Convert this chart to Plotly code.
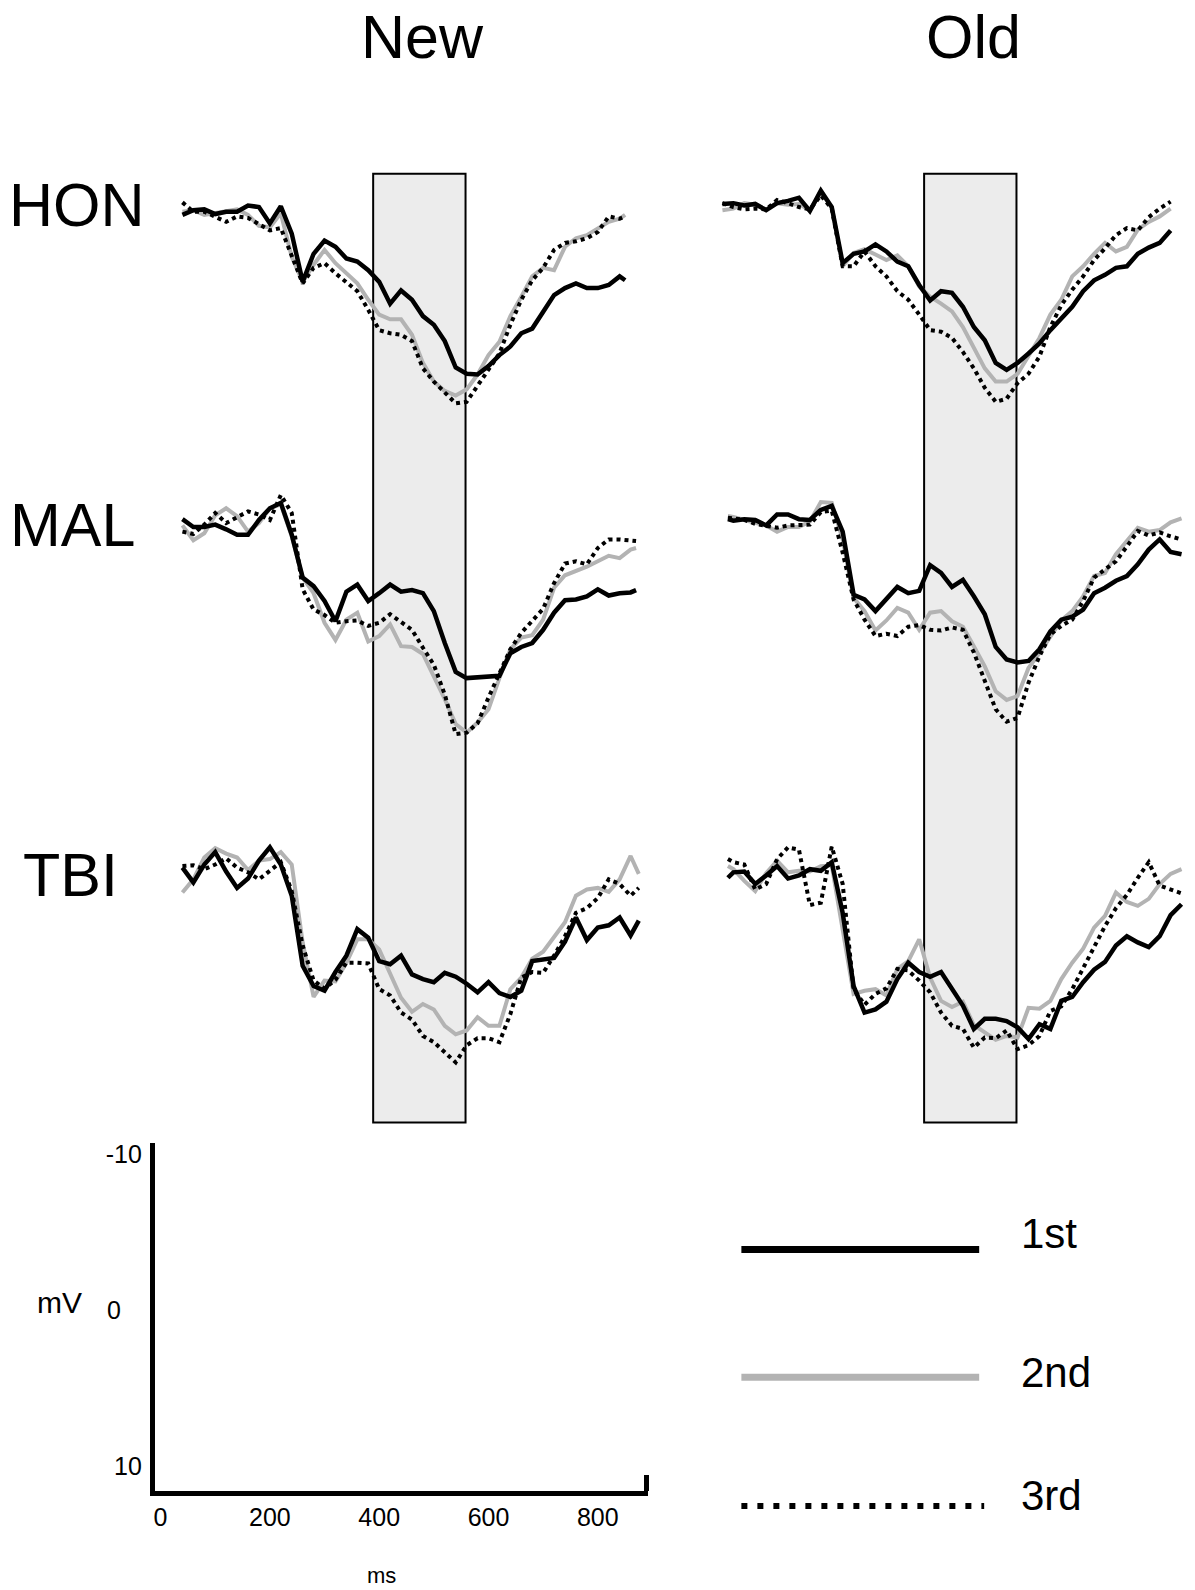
import plotly.graph_objects as go

W, H = 1195, 1590
FONT = "Liberation Sans, Arial, sans-serif"

COLUMNS = ["New", "Old"]
GROUPS = ["HON", "MAL", "TBI"]
SERIES = ["1st", "2nd", "3rd"]
WINDOW_MS = [389, 558]

SCALE_X_TICKS = [0, 200, 400, 600, 800]
SCALE_X_TEXT = ["0", "200", "400", "600", "800"]
SCALE_X_END_MS = 889
SCALE_Y_TICKS = [-10, 0, 10]
SCALE_Y_TEXT = ["-10", "0\u00a0\u00a0\u00a0", "10"]
SCALE_X_LABEL = "ms"
SCALE_Y_LABEL = "mV"

# ---------------- time samples (ms) ----------------
T_HON_NEW = [40, 60, 80, 100, 120, 140, 160, 180, 200, 220, 240, 260, 280, 300, 320, 340, 360, 380, 400, 420,
             440, 460, 480, 500, 520, 540, 560, 580, 600, 620, 640, 660, 680, 700, 720, 740, 760, 780, 800, 820,
             840, 850]
T_MAL_NEW = [40, 60, 80, 100, 120, 140, 160, 180, 200, 220, 240, 260, 280, 300, 320, 340, 360, 380, 400, 420,
             440, 460, 480, 500, 520, 540, 560, 580, 600, 620, 640, 660, 680, 700, 720, 740, 760, 780, 800, 820,
             840, 860, 870]
T_TBI_NEW = [40, 60, 80, 100, 120, 140, 160, 180, 200, 220, 240, 260, 280, 300, 320, 340, 360, 380, 400, 420,
             440, 460, 480, 500, 520, 540, 560, 580, 600, 620, 640, 660, 680, 700, 720, 740, 760, 780, 800, 820,
             840, 860, 875]
T_HON_OLD = [20, 40, 60, 80, 100, 120, 140, 160, 180, 200, 220, 240, 260, 280, 300, 320, 340, 360, 380, 400,
             420, 440, 460, 480, 500, 520, 540, 560, 580, 600, 620, 640, 660, 680, 700, 720, 740, 760, 780, 800,
             820, 840]
T_MAL_OLD = [30, 40, 60, 80, 100, 120, 140, 160, 180, 200, 220, 240, 260, 280, 300, 320, 340, 360, 380, 400,
             420, 440, 460, 480, 500, 520, 540, 560, 580, 600, 620, 640, 660, 680, 700, 720, 740, 760, 780, 800,
             820, 840, 860]
T_TBI_OLD = [30, 40, 60, 80, 100, 120, 140, 160, 180, 200, 220, 240, 260, 280, 300, 320, 340, 360, 380, 400,
             420, 440, 460, 480, 500, 520, 540, 560, 580, 600, 620, 640, 660, 680, 700, 720, 740, 760, 780, 800,
             820, 840, 860]

# ---------------- amplitudes (uV, negative up) ----------------
HON_NEW_1ST = [0.2, -0.1, -0.15, 0.15, 0, 0, -0.4, -0.3, 0.75, -0.35, 1.4, 4.5, 2.7, 1.85, 2.25, 3.0, 3.2, 3.75,
               4.5, 5.9, 5.05, 5.65, 6.7, 7.25, 8.3, 10.0, 10.4, 10.45, 9.9, 9.2, 8.65, 7.8, 7.5, 6.4, 5.35, 4.9,
               4.6, 4.9, 4.9, 4.7, 4.15, 4.4]
HON_NEW_2ND = [0, -0.1, 0.2, 0.1, 0, -0.15, 0.2, 0.9, 1.0, 0.1, 2.9, 4.5, 3.4, 2.45, 3.3, 3.95, 4.6, 5.65, 6.6,
               6.9, 6.9, 7.9, 9.7, 10.9, 11.5, 11.8, 11.4, 10.45, 9.2, 8.35, 6.7, 5.45, 4.15, 3.6, 3.75, 2.25,
               1.7, 1.5, 1.05, 0.65, 0.45, 0.2]
HON_NEW_3RD = [-0.6, 0, 0, 0.3, 0.65, 0.3, 0.4, 0.8, 1.2, 1.05, 2.9, 4.6, 3.6, 3.3, 3.95, 4.5, 5.1, 6.3, 7.6, 7.8,
               7.9, 8.3, 10.05, 10.9, 11.6, 12.3, 12.2, 11.2, 10.15, 9.1, 7.25, 5.65, 4.4, 3.6, 2.45, 2.0, 1.9,
               1.7, 1.3, 0.3, 0.45, 0.3]

HON_OLD_1ST = [-0.5, -0.55, -0.4, -0.5, -0.1, -0.55, -0.7, -0.9, -0.05, -1.35, -0.3, 3.3, 2.7, 2.55, 2.1, 2.55,
               3.2, 3.5, 4.7, 5.7, 5.1, 5.2, 6.1, 7.4, 8.25, 9.7, 10.15, 9.7, 9.1, 8.45, 7.6, 6.8, 6.1, 5.1, 4.4,
               4.05, 3.6, 3.5, 2.7, 2.3, 2.0, 1.2]
HON_OLD_2ND = [-0.1, -0.2, -0.55, -0.45, -0.15, -0.55, -0.45, -0.5, -0.1, -1.25, -0.3, 3.5, 2.65, 2.4, 2.75, 3.1,
               2.8, 3.5, 4.8, 5.45, 5.9, 6.4, 7.4, 8.75, 10.05, 10.9, 10.9, 10.4, 9.2, 8.1, 6.6, 5.65, 4.15, 3.5,
               2.7, 2.0, 2.55, 2.25, 1.15, 0.65, 0.3, -0.2]
HON_OLD_3RD = [-0.55, -0.3, -0.15, -0.2, -0.15, -0.75, -0.55, -0.3, -0.15, -1.05, -0.2, 3.5, 3.5, 2.55, 3.5, 4.15,
               5.1, 5.65, 6.6, 7.6, 7.7, 8.1, 9.0, 10.05, 11.3, 12.2, 12.0, 11.0, 10.4, 9.3, 7.4, 6.0, 5.0, 4.15,
               3.1, 2.35, 1.5, 1.05, 1.2, 0.35, -0.2, -0.65]

MAL_NEW_1ST = [-0.35, 0.15, 0.15, 0, 0.3, 0.65, 0.65, -0.3, -1.05, -1.4, 0.65, 3.4, 3.95, 4.9, 6.2, 4.3, 3.85,
               4.9, 4.4, 3.85, 4.3, 4.2, 4.4, 5.55, 7.6, 9.45, 9.85, 9.8, 9.7, 9.7, 8.25, 7.85, 7.6, 6.75, 5.65,
               4.85, 4.8, 4.6, 4.15, 4.55, 4.4, 4.35, 4.2]
MAL_NEW_2ND = [0.05, 1.0, 0.55, -0.6, -1.05, -0.55, 0.45, -0.1, -1.05, -1.3, 0.75, 3.4, 4.4, 6.3, 7.4, 6.1, 5.65,
               7.5, 7.15, 6.4, 7.8, 7.85, 8.3, 9.7, 11.2, 12.8, 13.35, 12.7, 11.85, 9.85, 8.0, 7.25, 7.1, 6.1,
               4.05, 3.25, 3.0, 2.7, 2.35, 2.0, 2.15, 1.6, 1.5]
MAL_NEW_3RD = [0.45, 0.6, 0, -0.75, -0.1, -0.45, -0.85, -0.65, -0.3, -1.9, -0.75, 4.15, 5.45, 5.8, 6.3, 6.2,
               6.15, 6.5, 6.3, 5.75, 6.25, 6.75, 7.9, 9.0, 10.9, 13.45, 13.35, 12.75, 11.1, 9.5, 8.0, 6.95, 6.15,
               5.4, 3.75, 2.5, 2.35, 2.55, 1.5, 0.95, 0.95, 1.05, 1.05]

MAL_OLD_1ST = [-0.35, -0.25, -0.35, -0.3, 0.05, -0.65, -0.65, -0.35, -0.3, -0.95, -1.2, 0.45, 4.5, 4.8, 5.55,
               4.8, 4.0, 4.4, 4.25, 2.6, 3.1, 4.0, 3.55, 4.6, 5.75, 7.85, 8.65, 8.85, 8.75, 8.0, 6.85, 6.1, 5.9,
               5.45, 4.4, 4.05, 3.6, 3.3, 2.55, 1.6, 0.95, 1.75, 1.9]
MAL_OLD_2ND = [-0.55, -0.5, -0.3, -0.15, 0.05, 0.45, 0.15, 0.15, -0.2, -1.45, -1.4, 0.95, 4.7, 5.55, 6.8, 6.15,
               5.35, 5.65, 6.75, 5.65, 5.55, 6.2, 6.55, 7.8, 9.1, 10.7, 11.25, 11.0, 9.2, 8.25, 7.15, 6.15, 5.55,
               4.6, 3.3, 3.1, 1.9, 1.05, 0.2, 0.45, 0.35, -0.15, -0.4]
MAL_OLD_3RD = [-0.45, -0.4, -0.3, -0.05, 0.1, 0.2, 0.05, 0, 0, -0.8, -0.9, 1.8, 4.8, 6.1, 7.15, 7.0, 7.15, 6.55,
               6.45, 6.75, 6.8, 6.6, 6.75, 8.2, 10.05, 11.85, 12.65, 12.4, 10.15, 8.45, 7.05, 6.5, 6.1, 4.9, 3.4,
               2.85, 2.35, 1.4, 0.4, 0.7, 0.5, 0.75, 0.95]

TBI_NEW_1ST = [-0.1, 0.85, -0.3, -1.1, 0.15, 1.2, 0.6, -0.55, -1.4, -0.3, 1.7, 6.2, 7.5, 7.8, 6.6, 5.55, 3.85,
               4.4, 5.9, 6.1, 5.55, 6.75, 7.05, 7.25, 6.65, 6.9, 7.35, 7.9, 7.25, 7.95, 8.2, 7.8, 5.9, 5.8, 5.7,
               4.65, 3.1, 4.55, 3.75, 3.6, 3.1, 4.25, 3.3]
TBI_NEW_2ND = [1.5, 0.65, -0.75, -1.35, -1.0, -0.75, 0.05, -0.55, -0.65, -1.1, -0.3, 4.7, 8.2, 7.15, 7.2, 6.0,
               4.5, 4.5, 5.15, 6.75, 8.25, 9.15, 8.65, 9.0, 10.05, 10.6, 10.35, 9.5, 10.05, 10.05, 7.7, 6.95,
               5.75, 5.3, 4.4, 3.4, 1.7, 1.3, 1.2, 1.45, 0.65, -0.85, 0.3]
TBI_NEW_3RD = [-0.2, -0.25, 0, -0.3, -0.7, -0.1, 0.2, 0.65, 0.1, -0.45, 1.4, 4.9, 7.15, 7.65, 7.1, 6.0, 6.0,
               6.05, 7.7, 8.1, 9.2, 9.65, 10.7, 11.1, 11.75, 12.4, 11.3, 10.85, 10.85, 11.1, 9.3, 6.95, 6.6, 6.65,
               5.55, 4.3, 2.8, 2.5, 1.85, 0.65, 0.95, 1.7, 1.2]

TBI_OLD_1ST = [0.55, 0.2, 0.15, 0.95, 0.4, -0.2, 0.6, 0.4, 0, 0.1, -0.45, 2.8, 7.5, 9.2, 9.0, 8.5, 7.05, 6.0,
               6.6, 6.9, 6.6, 7.7, 8.75, 10.25, 9.6, 9.6, 9.75, 10.15, 10.9, 9.95, 10.25, 8.45, 8.2, 7.25, 6.45,
               5.95, 4.9, 4.3, 4.7, 5.0, 4.3, 2.95, 2.25]
TBI_OLD_2ND = [-0.2, 0, 0.75, 1.4, 0.25, -0.55, 0.2, 0.1, 0.15, -0.2, -0.25, 3.95, 8.0, 7.8, 7.7, 8.1, 6.4, 5.9,
               4.5, 6.95, 8.45, 8.85, 8.5, 10.0, 10.5, 10.95, 10.7, 10.8, 8.9, 8.95, 8.45, 7.05, 6.0, 5.1, 3.75,
               3.0, 1.5, 2.1, 2.35, 1.9, 0.95, 0.3, 0]
TBI_OLD_3RD = [-0.65, -0.45, -0.3, 1.3, 0.95, -0.65, -1.4, -1.25, 2.3, 2.15, -1.45, 0.95, 7.7, 8.7, 8.0, 7.65,
               6.4, 6.5, 7.15, 7.9, 9.2, 10.05, 10.25, 11.45, 10.8, 10.85, 10.35, 11.55, 11.3, 10.7, 9.1, 8.8,
               7.7, 6.35, 5.0, 3.65, 2.5, 1.65, 0.55, -0.45, 1.05, 1.3, 1.55]

PANELS = {
    ("HON", "New"): (T_HON_NEW, [HON_NEW_1ST, HON_NEW_2ND, HON_NEW_3RD]),
    ("HON", "Old"): (T_HON_OLD, [HON_OLD_1ST, HON_OLD_2ND, HON_OLD_3RD]),
    ("MAL", "New"): (T_MAL_NEW, [MAL_NEW_1ST, MAL_NEW_2ND, MAL_NEW_3RD]),
    ("MAL", "Old"): (T_MAL_OLD, [MAL_OLD_1ST, MAL_OLD_2ND, MAL_OLD_3RD]),
    ("TBI", "New"): (T_TBI_NEW, [TBI_NEW_1ST, TBI_NEW_2ND, TBI_NEW_3RD]),
    ("TBI", "Old"): (T_TBI_OLD, [TBI_OLD_1ST, TBI_OLD_2ND, TBI_OLD_3RD]),
}

# ---------------- geometry (pixels) ----------------
MS_PX = 0.547
UV_PX = 15.6
COL_ZERO_PX = {"New": 159.7, "Old": 711.1}
COL_DOMAIN_PX = {"New": (170, 642), "Old": (712, 1192)}
COL_AXIS = {"New": "x", "Old": "x2"}
ROW_BASE_PX = {"HON": 210.0, "MAL": 523.3, "TBI": 868.3}
ROW_DOMAIN_PX = {"HON": (150, 430), "MAL": (465, 770), "TBI": (815, 1090)}
ROW_AXIS = {"HON": "y", "MAL": "y2", "TBI": "y3"}

STYLE = {
    "1st": dict(color="#000000", width=4.5, dash="solid"),
    "2nd": dict(color="#b3b3b3", width=4, dash="solid"),
    "3rd": dict(color="#000000", width=4, dash="dot"),
}
DRAW_ORDER = [1, 0, 2]


def fx(p):
    return p / W


def fy(p):
    return 1 - p / H


fig = go.Figure()

for (grp, col), (t, series) in PANELS.items():
    for i in DRAW_ORDER:
        fig.add_trace(go.Scatter(
            x=t, y=series[i], mode="lines", name=SERIES[i], showlegend=False,
            line=STYLE[SERIES[i]], xaxis=COL_AXIS[col], yaxis=ROW_AXIS[grp],
            hoverinfo="skip"))

# empty traces to create the scale-bar subplot
fig.add_trace(go.Scatter(x=[], y=[], xaxis="x3", yaxis="y4", showlegend=False))
fig.add_trace(go.Scatter(x=[], y=[], xaxis="x4", yaxis="y4", showlegend=False))

layout = dict(
    width=W, height=H, margin=dict(l=0, r=0, t=0, b=0),
    paper_bgcolor="white", plot_bgcolor="rgba(0,0,0,0)",
    font=dict(family=FONT, color="black"),
    showlegend=False,
)

hidden = dict(visible=False, showgrid=False, zeroline=False, fixedrange=True)
for col, name in (("New", "xaxis"), ("Old", "xaxis2")):
    d0, d1 = COL_DOMAIN_PX[col]
    z = COL_ZERO_PX[col]
    layout[name] = dict(hidden, domain=[fx(d0), fx(d1)],
                        range=[(d0 - z) / MS_PX, (d1 - z) / MS_PX], anchor="y")
for grp, name in (("HON", "yaxis"), ("MAL", "yaxis2"), ("TBI", "yaxis3")):
    top, bot = ROW_DOMAIN_PX[grp]
    b = ROW_BASE_PX[grp]
    layout[name] = dict(hidden, domain=[fy(bot), fy(top)],
                        range=[(bot - b) / UV_PX, (top - b) / UV_PX], anchor="x")

# scale bar axes
SX0, SX1, SZERO = 154, 648, 159.7
SY_TOP, SY_BOT, SY_ZERO = 1142, 1491, 1310
scale_xrange = [(SX0 - SZERO) / MS_PX, (SX1 - SZERO) / MS_PX]
layout["xaxis3"] = dict(
    domain=[fx(SX0), fx(SX1)], range=scale_xrange, anchor="y4",
    showline=True, linecolor="black", linewidth=5, showgrid=False, zeroline=False,
    tickvals=SCALE_X_TICKS, ticktext=SCALE_X_TEXT, ticks="",
    tickfont=dict(size=25, family=FONT, color="black"), ticklabelstandoff=0, fixedrange=True)
layout["xaxis4"] = dict(
    domain=[fx(SX0), fx(SX1)], range=scale_xrange, anchor="y4", overlaying="x3",
    showline=False, showgrid=False, zeroline=False, tickvals=[SCALE_X_END_MS],
    ticks="inside", ticklen=16, tickwidth=5, tickcolor="black", showticklabels=False,
    fixedrange=True)
layout["yaxis4"] = dict(
    domain=[fy(SY_BOT), fy(SY_TOP)],
    range=[(SY_BOT - SY_ZERO) / UV_PX, (SY_TOP - SY_ZERO) / UV_PX], anchor="x3",
    showline=True, linecolor="black", linewidth=5, showgrid=False, zeroline=False,
    tickvals=SCALE_Y_TICKS, ticktext=SCALE_Y_TEXT, ticks="",
    tickfont=dict(size=25, family=FONT, color="black"), ticklabelstandoff=3, fixedrange=True)

shapes = []
for col in COLUMNS:
    shapes.append(dict(type="rect", xref=COL_AXIS[col], yref="paper",
                       x0=WINDOW_MS[0], x1=WINDOW_MS[1], y0=fy(1122), y1=fy(172),
                       fillcolor="#ececec", line=dict(color="black", width=2), layer="below"))

# legend samples
LEG_Y = {"1st": 1249, "2nd": 1377, "3rd": 1506}
LEG_STYLE = {
    "1st": dict(color="#000000", width=7),
    "2nd": dict(color="#b3b3b3", width=7),
    "3rd": dict(color="#000000", width=6, dash="6px,10px"),
}
for s in SERIES:
    shapes.append(dict(type="line", xref="paper", yref="paper",
                       x0=fx(741), x1=fx(984 if s == "3rd" else 979),
                       y0=fy(LEG_Y[s]), y1=fy(LEG_Y[s]), line=LEG_STYLE[s]))
layout["shapes"] = shapes

ann = []
COL_TITLE_PX = {"New": (422, 35.5), "Old": (973, 35.5)}
for col in COLUMNS:
    x, y = COL_TITLE_PX[col]
    ann.append(dict(text=col, x=fx(x), y=fy(y), xref="paper", yref="paper",
                    xanchor="center", yanchor="middle", showarrow=False,
                    font=dict(size=61, family=FONT, color="black")))
ROW_LABEL_PX = {"HON": (76, 203), "MAL": (71.5, 524), "TBI": (70, 874)}
for grp in GROUPS:
    x, y = ROW_LABEL_PX[grp]
    ann.append(dict(text=grp, x=fx(x), y=fy(y), xref="paper", yref="paper",
                    xanchor="center", yanchor="middle", showarrow=False,
                    font=dict(size=61, family=FONT, color="black")))
LEG_TEXT_Y = {"1st": 1233, "2nd": 1372, "3rd": 1495}
for s in SERIES:
    ann.append(dict(text=s, x=fx(1019), y=fy(LEG_TEXT_Y[s]), xref="paper", yref="paper",
                    xanchor="left", yanchor="middle", showarrow=False,
                    font=dict(size=42, family=FONT, color="black")))
ann.append(dict(text=SCALE_Y_LABEL, x=fx(59), y=fy(1302), xref="paper", yref="paper",
                xanchor="center", yanchor="middle", showarrow=False,
                font=dict(size=30, family=FONT, color="black")))
ann.append(dict(text=SCALE_X_LABEL, x=fx(381), y=fy(1575), xref="paper", yref="paper",
                xanchor="center", yanchor="middle", showarrow=False,
                font=dict(size=22, family=FONT, color="black")))
layout["annotations"] = ann

fig.update_layout(**layout)
fig.write_html("out.html", config={"displayModeBar": False, "staticPlot": True},
               post_script="document.body.style.margin='0px';")
